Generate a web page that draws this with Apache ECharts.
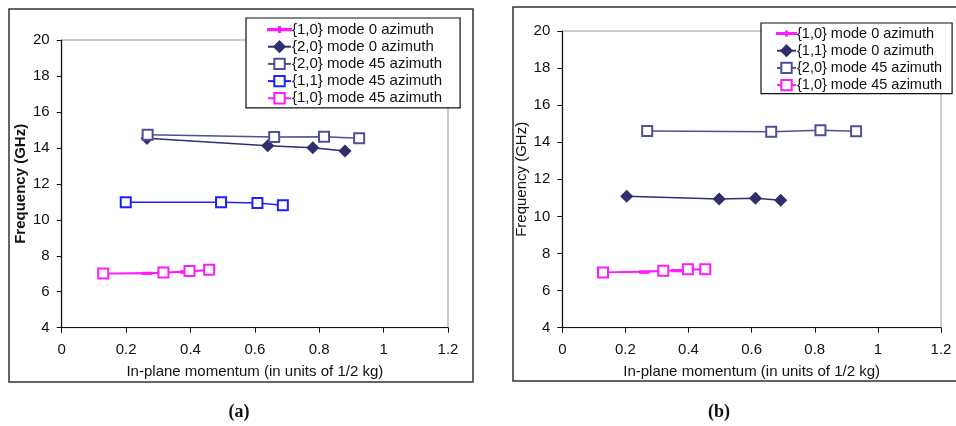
<!DOCTYPE html>
<html>
<head>
<meta charset="utf-8">
<script src="https://cdn.jsdelivr.net/npm/echarts@6/dist/echarts.min.js"></script>
<style>
  html, body { margin: 0; padding: 0; background: #fff; }
  #chart { width: 956px; height: 426px; }
</style>
</head>
<body>
<div id="chart"></div>
<script>
// panel (a)
var a_mode0_10 = [[0.13, 7.0], [0.265, 7.02], [0.385, 7.1], [0.46, 7.2]];
var a_mode0_20 = [[0.265, 14.53], [0.64, 14.12], [0.78, 14.01], [0.88, 13.83]];
var a_mode45_20 = [[0.267, 14.73], [0.66, 14.6], [0.815, 14.62], [0.924, 14.53]];
var a_mode45_11 = [[0.199, 10.97], [0.495, 10.97], [0.608, 10.94], [0.687, 10.81]];
var a_mode45_10 = [[0.129, 7.02], [0.316, 7.07], [0.397, 7.15], [0.458, 7.22]];

// panel (b)
var b_mode0_10 = [[0.13, 6.98], [0.26, 7.0], [0.362, 7.08], [0.45, 7.14]];
var b_mode0_11 = [[0.204, 11.09], [0.497, 10.94], [0.612, 10.98], [0.692, 10.87]];
var b_mode45_20 = [[0.269, 14.61], [0.662, 14.57], [0.818, 14.65], [0.931, 14.6]];
var b_mode45_10 = [[0.129, 6.98], [0.32, 7.07], [0.398, 7.15], [0.453, 7.15]];

var namesA = ['{1,0} mode 0 azimuth', '{2,0} mode 0 azimuth', '{2,0} mode 45 azimuth', '{1,1} mode 45 azimuth', '{1,0} mode 45 azimuth'];
var namesB = ['{1,0} mode 0 azimuth', '{1,1} mode 0 azimuth', '{2,0} mode 45 azimuth', '{1,0} mode 45 azimuth'];

var MAGENTA = '#ff1aff', NAVY = '#2f2f70', SLATE = '#4f4f98', BLUE = '#1f1fff';
var FONT = 'Liberation Sans';
// legend icon for the plain line series: a thin line with a small tick
var TICK_ICON = 'path://M0,2L24,2L24,3.2L0,3.2Z M11.4,0L12.6,0L12.6,5L11.4,5Z';

function xAxisFor(idx) {
  return {
    gridIndex: idx, type: 'value', min: 0, max: 1.2, interval: 0.2,
    name: 'In-plane momentum (in units of 1/2 kg)', nameLocation: 'middle', nameGap: 37,
    nameTextStyle: { fontFamily: FONT, fontSize: 15, color: '#111' },
    axisLine: { lineStyle: { color: '#111', width: 1.2 } },
    axisTick: { length: 5, lineStyle: { color: '#111' } },
    axisLabel: { fontFamily: FONT, fontSize: 15, color: '#111', margin: 15,
      formatter: function (v) { return +v.toFixed(1) + ''; } },
    splitLine: { show: false }
  };
}
function yAxisFor(idx, bold, gap) {
  return {
    gridIndex: idx, type: 'value', min: 4, max: 20, interval: 2,
    name: 'Frequency (GHz)', nameLocation: 'middle', nameGap: gap,
    nameTextStyle: { fontFamily: FONT, fontSize: 15, color: '#111', fontWeight: bold ? 'bold' : 'normal' },
    axisLine: { show: true, lineStyle: { color: '#111', width: 1.2 } },
    axisTick: { show: true, length: 5, lineStyle: { color: '#111' } },
    axisLabel: { fontFamily: FONT, fontSize: 15, color: '#111', margin: 12 },
    splitLine: { show: false }
  };
}
function line(name, data, idx, color, symbol, size) {
  return {
    name: name, type: 'line', xAxisIndex: idx, yAxisIndex: idx, data: data,
    symbol: symbol, symbolSize: size, showSymbol: true,
    lineStyle: { color: color, width: 1.5 },
    itemStyle: { color: color, borderColor: color, borderWidth: 1.5 },
    animation: false, z: 3
  };
}
function legendFor(names, left, top, pad, iconW, gap, fontSize) {
  return {
    data: names.map(function (n, i) {
      return i === 0 ? { name: n, icon: TICK_ICON } : { name: n };
    }),
    orient: 'vertical', left: left, top: top,
    backgroundColor: '#fff', borderColor: '#111', borderWidth: 1.2,
    padding: pad, itemGap: gap, itemWidth: iconW, itemHeight: 13,
    textStyle: { fontFamily: FONT, fontSize: fontSize, lineHeight: 13, color: '#111', padding: [0, 0, 0, -4] },
    selectedMode: false
  };
}

var chart = echarts.init(document.getElementById('chart'));
chart.setOption({
  animation: false,
  grid: [
    { left: 61.7, top: 40, width: 386.3, height: 287.7, show: true, borderColor: '#9a9a9a', borderWidth: 1, containLabel: false },
    { left: 562.3, top: 31, width: 378.7, height: 296.7, show: true, borderColor: '#9a9a9a', borderWidth: 1, containLabel: false }
  ],
  xAxis: [xAxisFor(0), xAxisFor(1)],
  yAxis: [yAxisFor(0, true, 33), yAxisFor(1, false, 31)],
  legend: [
    legendFor(namesA, 246, 18, [4, 18, 2, 21], 23, 2.2, 15),
    legendFor(namesB, 761, 23, [3, 10, 1, 15], 19, 2.2, 14.5)
  ],
  series: [
    line(namesA[0], a_mode0_10, 0, MAGENTA, 'rect', [8, 2.5]),
    line(namesA[1], a_mode0_20, 0, NAVY, 'diamond', 11),
    line(namesA[2], a_mode45_20, 0, SLATE, 'emptyRect', 10),
    line(namesA[3], a_mode45_11, 0, BLUE, 'emptyRect', 10),
    line(namesA[4], a_mode45_10, 0, MAGENTA, 'emptyRect', 10),
    line(namesB[0], b_mode0_10, 1, MAGENTA, 'rect', [8, 2.5]),
    line(namesB[1], b_mode0_11, 1, NAVY, 'diamond', 11),
    line(namesB[2], b_mode45_20, 1, SLATE, 'emptyRect', 10),
    line(namesB[3], b_mode45_10, 1, MAGENTA, 'emptyRect', 10)
  ],
  graphic: [
    { type: 'rect', shape: { x: 9, y: 9, width: 464, height: 373 }, style: { fill: null, stroke: '#333', lineWidth: 1.5 }, z: -1 },
    { type: 'rect', shape: { x: 513, y: 7, width: 450, height: 374 }, style: { fill: null, stroke: '#333', lineWidth: 1.5 }, z: -1 },
    { type: 'text', x: 239, y: 412, style: { text: '(a)', font: 'bold 18px "Liberation Serif"', fill: '#111', align: 'center', verticalAlign: 'middle' } },
    { type: 'text', x: 719, y: 412, style: { text: '(b)', font: 'bold 18px "Liberation Serif"', fill: '#111', align: 'center', verticalAlign: 'middle' } }
  ]
});
</script>
</body>
</html>
